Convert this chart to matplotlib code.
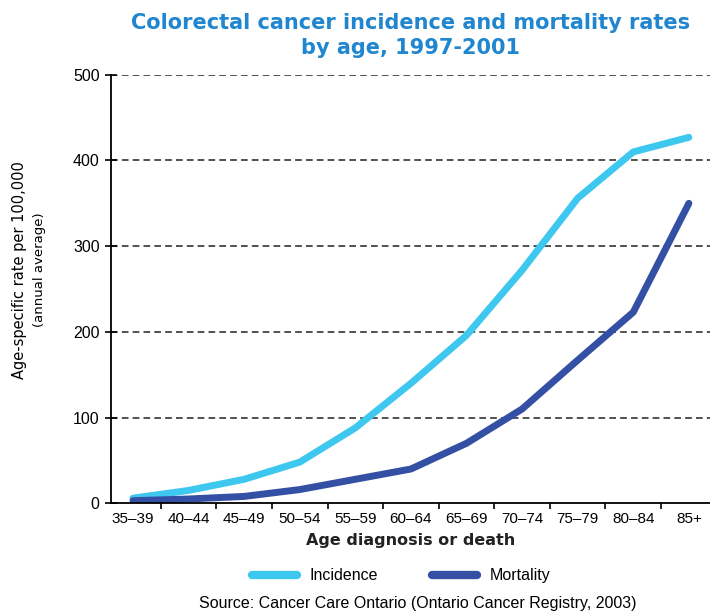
import matplotlib.pyplot as plt
from matplotlib.lines import Line2D

ages = ['35\u201339', '40\u201344', '45\u201349', '50\u201354', '55\u201359', '60\u201364',
        '65\u201369', '70\u201374', '75\u201379', '80\u201384', '85+']
incidence = [6, 15, 28, 48, 88, 140, 196, 272, 356, 410, 427]
mortality = [3, 5, 8, 16, 28, 40, 70, 110, 167, 223, 350]

inc_color = '#3ec8f0'
mor_color = '#3450a4'
sans = 'Liberation Sans'

fig = plt.figure(figsize=(7.1, 6.13), dpi=100)
ax = fig.add_axes([0.156, 0.179, 0.844, 0.699])

x = list(range(len(ages)))
ax.plot(x, incidence, color=inc_color, lw=5, solid_capstyle='round', solid_joinstyle='round')
ax.plot(x, mortality, color=mor_color, lw=5, solid_capstyle='round', solid_joinstyle='round')

ax.set_xlim(-0.4, 10.38)
ax.set_ylim(0, 500)
ax.set_yticks([0, 100, 200, 300, 400, 500])
for v in [100, 200, 300, 400, 500]:
    ax.axhline(v, color='#333333', lw=1.2, ls=(0, (4, 2.5)), zorder=0)

# category labels sit between the tick marks
ax.set_xticks([i + 0.5 for i in range(len(ages) - 1)])
ax.set_xticklabels([])
ax.set_xticks(x, minor=True)
ax.set_xticklabels(ages, minor=True, fontsize=11, family=sans)
ax.tick_params(axis='x', which='minor', length=0, pad=6)
ax.tick_params(axis='x', which='major', length=4, width=1.2, direction='out')
ax.tick_params(axis='y', length=8, width=1.2, direction='inout', labelsize=11.5, pad=4)
for t in ax.get_yticklabels():
    t.set_family(sans)

for s in ['top', 'right']:
    ax.spines[s].set_visible(False)
for s in ['left', 'bottom']:
    ax.spines[s].set_linewidth(1.3)

fig.text(0.578, 0.978, 'Colorectal cancer incidence and mortality rates\nby age, 1997-2001',
         ha='center', va='top', fontsize=15, fontweight='bold', color='#1f86cf',
         linespacing=1.3)

fig.text(0.028, 0.56, 'Age-specific rate per 100,000', rotation=90, ha='center', va='center',
         fontsize=10.5)
fig.text(0.056, 0.56, '(annual average)', rotation=90, ha='center', va='center',
         fontsize=9.5)

fig.text(0.578, 0.118, 'Age diagnosis or death', ha='center', va='center',
         fontsize=11.5, fontweight='bold', color='#222222')

handles = [Line2D([], [], color=inc_color, lw=6, solid_capstyle='round'),
           Line2D([], [], color=mor_color, lw=6, solid_capstyle='round')]
fig.legend(handles, ['Incidence', 'Mortality'], loc='center', bbox_to_anchor=(0.565, 0.061),
           ncol=2, frameon=False, handlelength=2.8, columnspacing=3.4,
           prop={'family': sans, 'size': 11.5})

fig.text(0.588, 0.016, 'Source: Cancer Care Ontario (Ontario Cancer Registry, 2003)',
         ha='center', va='center', fontsize=11.5, family=sans)

fig.savefig('out.png', dpi=100)
